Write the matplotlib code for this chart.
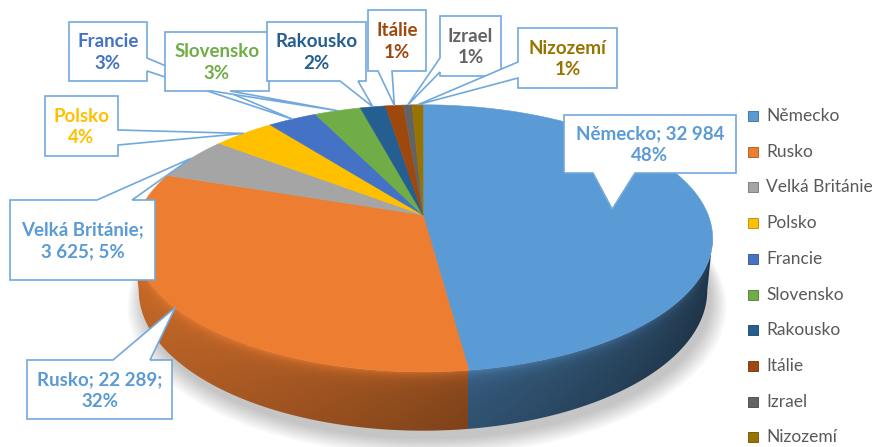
import numpy as np
import matplotlib
matplotlib.use("Agg")
import matplotlib.pyplot as plt
from matplotlib.patches import Polygon, Rectangle
from matplotlib.colors import to_rgb

# ---------------- data ----------------
categories = ["Německo", "Rusko", "Velká Británie", "Polsko", "Francie",
              "Slovensko", "Rakousko", "Itálie", "Izrael", "Nizozemí"]
values = [32984, 22289, 3625, 2800, 2250, 2100, 1150, 810, 400, 490]
colors = ["#5B9BD5", "#ED7D31", "#A5A5A5", "#FFC000", "#4472C4",
          "#70AD47", "#255E91", "#9E480E", "#636363", "#997300"]
label_colors = ["#5B9BD5", "#5B9BD5", "#5B9BD5", "#FFC000", "#4472C4",
                "#70AD47", "#255E91", "#9E480E", "#636363", "#997300"]
show_value = [True, True, True, False, False, False, False, False, False, False]

# ---------------- layout (pixels) ----------------
W, Hpx = 878, 447
CX, CY = 423, 215
R, D, SA, CA, F = 0.196, 1.0, 0.454, 0.891, 1455.0
DEPTH = 0.0405

# callout boxes: (x0, y0, x1, y1, edge, base_a, base_b, tip_radius)
callouts = [
    (564, 115, 736, 173, "bottom", 593, 635, 0.67),
    (27, 360, 172, 419, "top", 113, 150, 1.0),
    (10, 200, 155, 280, "top", 97, 132, 1.0),
    (45, 96, 118, 156, "right", 130, 145, 1.0),
    (69, 22, 147, 81, "right", 58, 71, 1.0),
    (165, 32, 269, 91, "bottom", 212, 230, 1.0),
    (267, 22, 366, 81, "bottom", 340, 358, 1.0),
    (368, 10, 426, 71, "bottom", 378, 392, 1.0),
    (440, 16, 501, 76, "left", 58, 72, 1.0),
    (518, 28, 617, 88, "left", 62, 78, 1.0),
]


def proj(theta, r=1.0, h=0.0):
    theta = np.asarray(theta, dtype=float)
    X = r * R * np.sin(theta)
    Z = r * R * np.cos(theta)
    yc = Z * SA - h * CA
    zc = D + Z * CA + h * SA
    return CX + F * X / zc, CY - F * yc / zc


def shade(c, f):
    r, g, b = to_rgb(c)
    if f <= 1:
        return (r * f, g * f, b * f)
    t = f - 1
    return (r + (1 - r) * t, g + (1 - g) * t, b + (1 - b) * t)


fig = plt.figure(figsize=(W / 100, Hpx / 100), dpi=100)
ax = fig.add_axes([0, 0, 1, 1])

vals = np.array(values, dtype=float)
total = vals.sum()
fr = vals / total
bounds = np.concatenate([[0], np.cumsum(fr)]) * 2 * np.pi

# soft shadow
th_all = np.linspace(0, 2 * np.pi, 300)
for k in range(10):
    sx, sy = proj(th_all, 1.0 + 0.006 * k, DEPTH + 0.004)
    ax.add_patch(Polygon(np.column_stack([sx + 4, sy + 3 + k * 0.6]),
                         closed=True, facecolor="#000000", edgecolor="none",
                         alpha=0.022, zorder=1))

# ---- side wall rendered as a shaded image clipped to the wall outline ----
tf = np.linspace(0, 2 * np.pi, 4000)
sxt, _ = proj(tf)
front = (tf > np.pi / 2 - 0.3) & (tf < 3 * np.pi / 2 + 0.3)
tfr = tf[front]
sxf = sxt[front]
ia = np.argmax(sxf)
ib = np.argmin(sxf)
th_a, th_b = tfr[ia], tfr[ib]
th_side = np.linspace(th_a, th_b, 600)
xt, yt = proj(th_side, 1.0, 0.0)
xb, yb = proj(th_side, 1.0, DEPTH)
xm = 0.5 * (xt + xb)

ys, xs = np.mgrid[0:Hpx, 0:W] + 0.5
order = np.argsort(xm)
theta_px = np.interp(xs, xm[order], th_side[order])
ytop_px = np.interp(xs, xm[order], yt[order])
ybot_px = np.interp(xs, xm[order], yb[order])
rel = np.clip((ys - ytop_px) / np.maximum(ybot_px - ytop_px, 1), 0, 1)
idx = np.clip(np.searchsorted(bounds, theta_px) - 1, 0, len(vals) - 1)
base_rgb = np.array([to_rgb(c) for c in colors])[idx]
fac = 0.62 - 0.25 * np.sin(theta_px) + 0.22 * np.exp(-rel / 0.10) - 0.06 * rel
fac = fac[..., None]
img = np.where(fac <= 1, base_rgb * fac, base_rgb + (1 - base_rgb) * (fac - 1))
img = np.clip(img, 0, 1)
im = ax.imshow(img, extent=[0, W, Hpx, 0], zorder=2, interpolation="bilinear",
               aspect="auto")
side_poly = Polygon(np.column_stack([np.concatenate([xt, xb[::-1]]),
                                     np.concatenate([yt, yb[::-1]])]),
                    closed=True, facecolor="none", edgecolor="none",
                    transform=ax.transData)
ax.add_patch(side_poly)
im.set_clip_path(side_poly)

# top faces
for i in range(len(vals)):
    th = np.linspace(bounds[i], bounds[i + 1], 120)
    sx, sy = proj(th)
    poly = np.column_stack([np.concatenate([[CX], sx]),
                            np.concatenate([[CY], sy])])
    ax.add_patch(Polygon(poly, closed=True, facecolor=colors[i],
                         edgecolor=colors[i], lw=0.4, zorder=3))

# callouts
edge_col = "#72A9DC"
for i, (x0, y0, x1, y1, edge, a, b, tr) in enumerate(callouts):
    mid = 0.5 * (bounds[i] + bounds[i + 1])
    tx, ty = proj([mid], tr)
    tip = (float(tx[0]), float(ty[0]))
    if edge == "bottom":
        pts = [(x0, y0), (x1, y0), (x1, y1), (b, y1), tip, (a, y1), (x0, y1)]
    elif edge == "top":
        pts = [(x0, y0), (a, y0), tip, (b, y0), (x1, y0), (x1, y1), (x0, y1)]
    elif edge == "right":
        pts = [(x0, y0), (x1, y0), (x1, a), tip, (x1, b), (x1, y1), (x0, y1)]
    else:
        pts = [(x0, y0), (x1, y0), (x1, y1), (x0, y1), (x0, b), tip, (x0, a)]
    ax.add_patch(Polygon(pts, closed=True, facecolor="white",
                         edgecolor=edge_col, lw=1.2, zorder=5))
    pct = int(round(100 * fr[i]))
    v = f"{values[i]:,}".replace(",", " ")
    if i == 0:
        txt = f"{categories[i]}; {v}\n{pct}%"
    elif show_value[i]:
        if len(categories[i]) > 8:
            txt = f"{categories[i]};\n{v}; {pct}%"
        else:
            txt = f"{categories[i]}; {v};\n{pct}%"
    else:
        txt = f"{categories[i]}\n{pct}%"
    ax.text(0.5 * (x0 + x1), 0.5 * (y0 + y1) + 1, txt, ha="center",
            va="center", fontsize=13.5, fontweight="bold", family="Lato",
            color=label_colors[i], linespacing=1.35, zorder=6)

# legend
ly0, ldy = 116, 35.7
for i, cat in enumerate(categories):
    y = ly0 + i * ldy
    ax.add_patch(Rectangle((748, y - 5), 10, 10, facecolor=colors[i],
                           edgecolor=shade(colors[i], 0.7), lw=0.6, zorder=6))
    ax.text(766, y, cat, ha="left", va="center", fontsize=12.5,
            family="Lato", color="#595959", zorder=6)

ax.set_xlim(0, W)
ax.set_ylim(Hpx, 0)
ax.axis("off")
fig.savefig("out.png", dpi=100)
